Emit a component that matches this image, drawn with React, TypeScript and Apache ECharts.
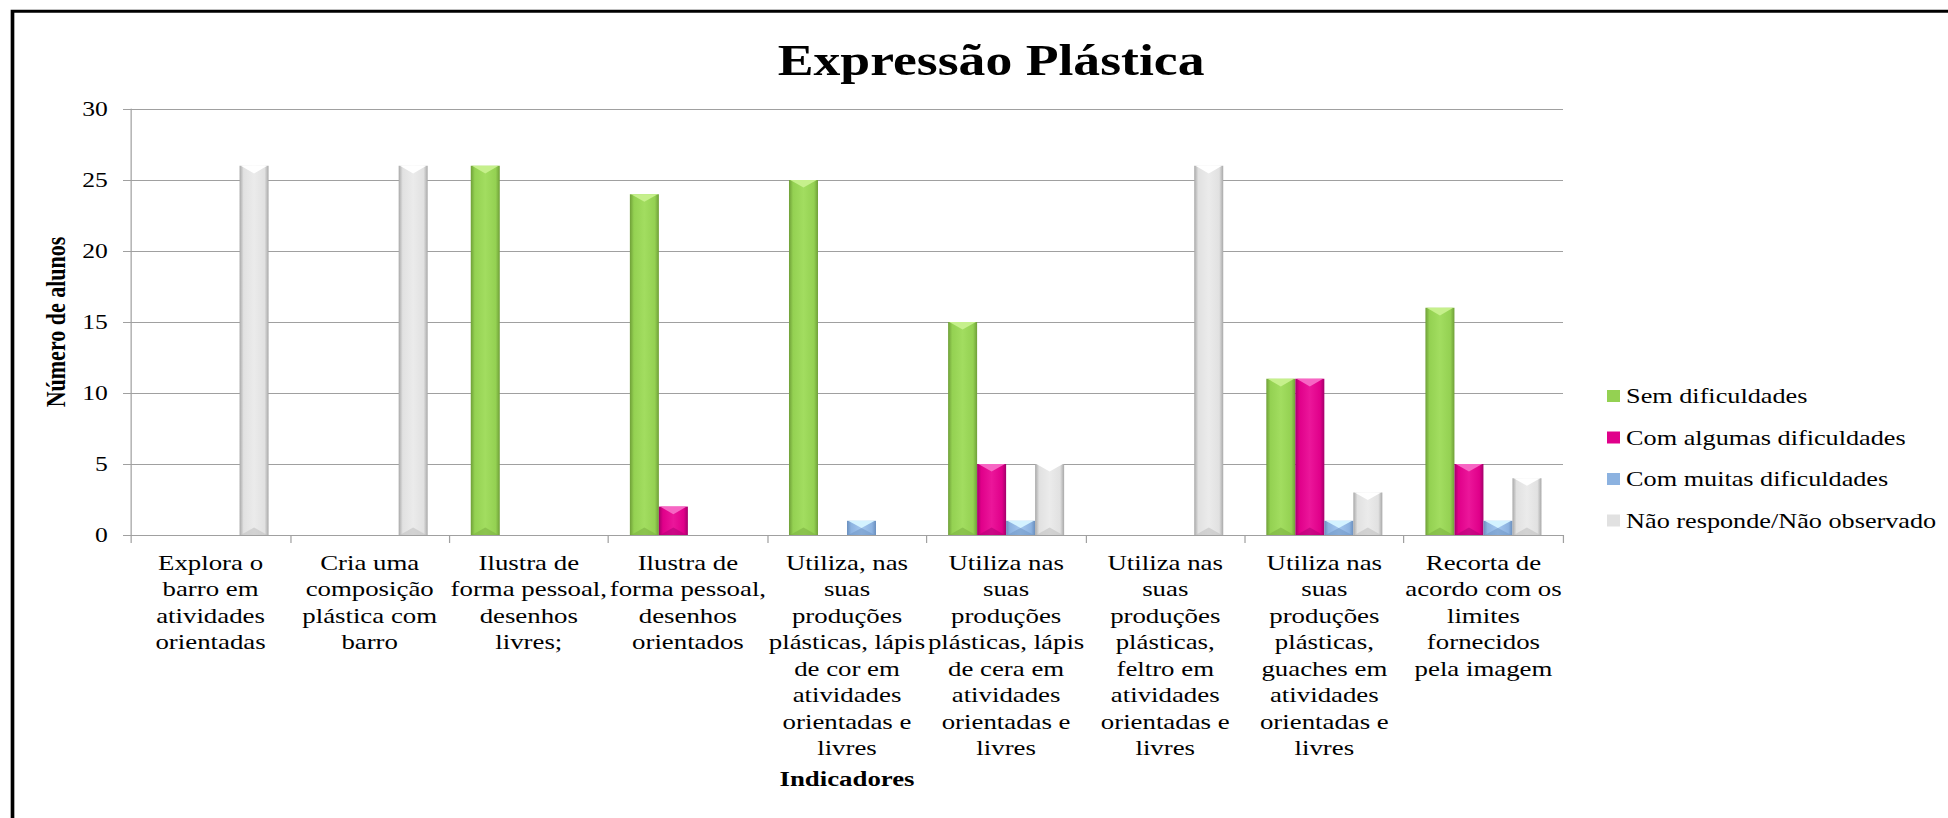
import React, { useEffect, useRef } from 'react';
import * as echarts from 'echarts';

// ---------- data ----------
const categories = [
  'Explora o\nbarro em\natividades\norientadas',
  'Cria uma\ncomposição\nplástica com\nbarro',
  'Ilustra de\nforma pessoal,\ndesenhos\nlivres;',
  'Ilustra de\nforma pessoal,\ndesenhos\norientados',
  'Utiliza, nas\nsuas\nproduções\nplásticas, lápis\nde cor em\natividades\norientadas e\nlivres',
  'Utiliza nas\nsuas\nproduções\nplásticas, lápis\nde cera em\natividades\norientadas e\nlivres',
  'Utiliza nas\nsuas\nproduções\nplásticas,\nfeltro em\natividades\norientadas e\nlivres',
  'Utiliza nas\nsuas\nproduções\nplásticas,\nguaches em\natividades\norientadas e\nlivres',
  'Recorta de\nacordo com os\nlimites\nfornecidos\npela imagem',
];

const seriesNames = [
  'Sem dificuldades',
  'Com algumas dificuldades',
  'Com muitas dificuldades',
  'Não responde/Não observado',
];

const semDificuldades = [0, 0, 26, 24, 25, 15, 0, 11, 16];
const comAlgumasDificuldades = [0, 0, 0, 2, 0, 5, 0, 11, 5];
const comMuitasDificuldades = [0, 0, 0, 0, 1, 1, 0, 1, 1];
const naoResponde = [26, 26, 0, 0, 0, 5, 26, 3, 4];

const seriesValues = [semDificuldades, comAlgumasDificuldades, comMuitasDificuldades, naoResponde];

const chartTitle = 'Expressão Plástica';
const yAxisName = 'Número de alunos';
const xAxisName = 'Indicadores';

// ---------- styling ----------
const W = 1948;
const H = 818;
const S = 1.22; // horizontal stretch of the original picture
const CW = W / S;
const FONT = "'Liberation Serif', 'Times New Roman', serif";
const BAR_RATIO = 0.1823;

const palettes = [
  { base: '#94D152', dark: '#6F9F38', light: '#A2DD60', top: '#C6F08C', bottom: '#7DB343' },
  { base: '#E0008A', dark: '#A3006A', light: '#EB169A', top: '#F766C4', bottom: '#B50078' },
  { base: '#8CB2E0', dark: '#6A8FBE', light: '#A3C6EE', top: '#D4F2FF', bottom: '#7399C8' },
  { base: '#E1E1E1', dark: '#A8A8A8', light: '#EBEBEB', top: '#FFFFFF', bottom: '#C2C2C2' },
];

const makeRender = (si: number) => (params: any, api: any) => {
  const cat = api.value(0);
  const v = api.value(1);
  if (!v) return null;
  const p0 = api.coord([cat, 0]);
  const p1 = api.coord([cat, v]);
  const band = api.size([1, 0])[0];
  const bw = band * BAR_RATIO;
  const x = p0[0] + (si - 2) * bw;
  const y = p1[1];
  const h = p0[1] - p1[1];
  const pal = palettes[si];
  const th = Math.min(bw * 0.32, h / 2);
  return {
    type: 'group',
    children: [
      {
        type: 'rect',
        shape: { x, y, width: bw, height: h },
        style: {
          fill: new echarts.graphic.LinearGradient(0, 0, 1, 0, [
            { offset: 0, color: pal.dark },
            { offset: 0.14, color: pal.base },
            { offset: 0.5, color: pal.light },
            { offset: 0.86, color: pal.base },
            { offset: 1, color: pal.dark },
          ]),
        },
      },
      {
        type: 'polygon',
        shape: { points: [[x + 1, y], [x + bw - 1, y], [x + bw / 2, y + th]] },
        style: { fill: pal.top },
      },
      {
        type: 'polygon',
        shape: { points: [[x + 1, y + h], [x + bw - 1, y + h], [x + bw / 2, y + h - th]] },
        style: { fill: pal.bottom, opacity: 0.6 },
      },
    ],
  };
};

export default function App() {
  const ref = useRef<HTMLDivElement>(null);

  useEffect(() => {
    if (!ref.current) return;
    const chart = echarts.init(ref.current, undefined, { renderer: 'svg' });
    const gridLeft = 131 / S;
    const gridRight = 1563 / S;
    chart.setOption({
      animation: false,
      backgroundColor: '#ffffff',
      textStyle: { fontFamily: FONT },
      title: {
        text: chartTitle,
        left: 985 / S,
        top: 33,
        textAlign: 'center',
        textStyle: { fontFamily: FONT, fontSize: 44, fontWeight: 'bold', color: '#000' },
      },
      legend: {
        orient: 'vertical',
        left: 1607 / S,
        top: 385,
        padding: 0,
        icon: 'rect',
        itemWidth: 13 / S,
        itemHeight: 12,
        itemGap: 19.5,
        data: seriesNames,
        textStyle: { fontFamily: FONT, fontSize: 21.5, lineHeight: 20, color: '#000' },
      },
      grid: {
        left: gridLeft,
        top: 109,
        width: gridRight - gridLeft,
        height: 535 - 109,
        containLabel: false,
      },
      xAxis: {
        type: 'category',
        data: categories,
        name: xAxisName,
        nameLocation: 'middle',
        nameGap: 232,
        nameTextStyle: { fontFamily: FONT, fontSize: 22, fontWeight: 'bold', color: '#000', lineHeight: 22 },
        axisLine: { show: true, lineStyle: { color: '#A0A0A0', width: 1 } },
        axisTick: { show: true, length: 8, interval: 0, lineStyle: { color: '#A0A0A0' } },
        axisLabel: {
          interval: 0,
          margin: 14,
          fontFamily: FONT,
          fontSize: 22,
          lineHeight: 26.5,
          color: '#000',
          align: 'center',
        },
        splitLine: { show: false },
      },
      yAxis: {
        type: 'value',
        min: 0,
        max: 30,
        interval: 5,
        name: yAxisName,
        nameLocation: 'middle',
        nameGap: 50,
        nameRotate: 90,
        nameTextStyle: { fontFamily: FONT, fontSize: 22, fontWeight: 'bold', color: '#000' },
        axisLine: { show: true, lineStyle: { color: '#A0A0A0', width: 1 } },
        axisTick: { show: true, length: 8 / S, lineStyle: { color: '#A0A0A0' } },
        axisLabel: { margin: 19, fontFamily: FONT, fontSize: 21, color: '#000' },
        splitLine: { show: true, lineStyle: { color: '#A0A0A0', width: 1 } },
      },
      series: seriesValues.map((vals, si) => ({
        type: 'custom',
        name: seriesNames[si],
        renderItem: makeRender(si),
        encode: { x: 0, y: 1 },
        itemStyle: { color: palettes[si].base },
        data: vals.map((v, i) => [i, v]),
      })),
      graphic: [
        {
          type: 'rect',
          silent: true,
          shape: { x: 12.5 / S, y: 11.3, width: CW + 60, height: H + 60 },
          style: { fill: 'none', stroke: '#000', lineWidth: 3 },
        },
      ],
    });
    return () => chart.dispose();
  }, []);

  return (
    <div
      style={{
        position: 'absolute',
        left: 0,
        top: 0,
        width: W,
        height: H,
        overflow: 'hidden',
        background: '#fff',
      }}
    >
      <div
        ref={ref}
        style={{
          width: CW,
          height: H,
          transform: `scaleX(${S})`,
          transformOrigin: '0 0',
        }}
      />
    </div>
  );
}
